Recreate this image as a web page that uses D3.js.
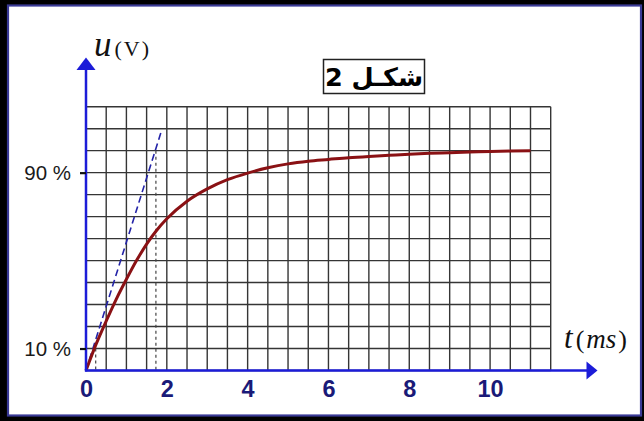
<!DOCTYPE html>
<html>
<head>
<meta charset="utf-8">
<script src="https://cdn.jsdelivr.net/npm/d3@7"></script>
<style>
  html, body { margin: 0; padding: 0; background: #000; }
  svg { display: block; }
</style>
</head>
<body>
<svg id="chart" width="644" height="421"></svg>
<script>
// Charging curve u(t), in percent of the final voltage, t in ms
const timeMs = [0, 0.25, 0.5, 0.75, 1.0, 1.25, 1.5, 1.75, 2.0, 2.5, 3.0, 3.5, 4.0, 4.5, 5.0,
                5.5, 6.0, 6.5, 7.0, 7.5, 8.0, 8.5, 9.0, 9.5, 10.0, 10.5, 11.0];
const voltagePct = [0, 12, 22.5, 32.5, 41.5, 50, 57.5, 63.8, 69, 77, 82.6, 86.8, 89.8, 92.2, 94,
                    95.2, 96, 96.8, 97.4, 97.9, 98.4, 98.8, 99.1, 99.4, 99.6, 99.8, 100];

// Tangent at the origin and the construction lines
const tangentT = [0, 1.86];
const tangentU = [0, 108.6];
const tauMs = 1.73;
const t10Ms = 0.24;

// Axis tick labels
const xTickValues = [0, 2, 4, 6, 8, 10];
const yTickValues = [10, 90];
const yTickLabels = ["10 %", "90 %"];

const svg = d3.select("#chart");

// Frame
svg.append("rect").attr("x", 0).attr("y", 0).attr("width", 644).attr("height", 421).attr("fill", "#000");
svg.append("rect").attr("x", 8).attr("y", 5.5).attr("width", 633).attr("height", 410)
  .attr("fill", "#fff").attr("stroke", "#3a3a96").attr("stroke-width", 2.2);

const x = d3.scaleLinear().domain([0, 11.5]).range([86, 550.7]);
const y = d3.scaleLinear().domain([0, 120]).range([370.5, 106.7]);

// Grid: 0.5 ms by 10 %
const grid = svg.append("g").attr("stroke", "#353535").attr("stroke-width", 1.4);
grid.selectAll("line.v").data(d3.range(0, 11.5001, 0.5)).join("line")
  .attr("class", "v")
  .attr("x1", d => x(d)).attr("x2", d => x(d))
  .attr("y1", y(0)).attr("y2", y(120));
grid.selectAll("line.h").data(d3.range(0, 120.001, 10)).join("line")
  .attr("class", "h")
  .attr("x1", x(0)).attr("x2", x(11.5))
  .attr("y1", d => y(d)).attr("y2", d => y(d));

// Construction lines
svg.append("line")
  .attr("x1", x(tauMs)).attr("x2", x(tauMs))
  .attr("y1", y(100)).attr("y2", y(0))
  .attr("stroke", "#444").attr("stroke-width", 1.2).attr("stroke-dasharray", "3,3");
svg.append("line")
  .attr("x1", x(t10Ms)).attr("x2", x(t10Ms))
  .attr("y1", y(10)).attr("y2", y(0))
  .attr("stroke", "#444").attr("stroke-width", 1.2).attr("stroke-dasharray", "3,3");

svg.append("path")
  .datum(d3.zip(tangentT, tangentU))
  .attr("d", d3.line().x(d => x(d[0])).y(d => y(d[1])))
  .attr("fill", "none").attr("stroke", "#2323a8").attr("stroke-width", 1.6)
  .attr("stroke-dasharray", "7,4");

// Curve
svg.append("path")
  .datum(d3.zip(timeMs, voltagePct))
  .attr("d", d3.line().x(d => x(d[0])).y(d => y(d[1])).curve(d3.curveMonotoneX))
  .attr("fill", "none").attr("stroke", "#8a1114").attr("stroke-width", 3);

// Axes lines and arrows
const axisBlue = "#1c1cd8";
svg.append("line").attr("x1", x(0)).attr("x2", x(0)).attr("y1", y(0) + 1).attr("y2", 68)
  .attr("stroke", axisBlue).attr("stroke-width", 2.5);
svg.append("path").attr("d", "M86,57.5 L76.5,70 L95.5,70 Z").attr("fill", axisBlue);
svg.append("line").attr("x1", x(0) - 1).attr("x2", 589).attr("y1", y(0)).attr("y2", y(0))
  .attr("stroke", axisBlue).attr("stroke-width", 2.5);
svg.append("path").attr("d", "M597.5,370.5 L586.5,361.5 L586.5,379.5 Z").attr("fill", axisBlue);

// Tick labels
const xAxis = svg.append("g").attr("transform", `translate(0,${y(0)})`)
  .call(d3.axisBottom(x).tickValues(xTickValues).tickSize(0).tickPadding(9.5));
xAxis.select(".domain").remove();
xAxis.selectAll("text")
  .attr("font-family", "Arial, 'Liberation Sans', sans-serif")
  .attr("font-weight", "bold").attr("font-size", 23.5).attr("fill", "#1a1a78");

const yAxis = svg.append("g").attr("transform", `translate(${x(0)},0)`)
  .call(d3.axisLeft(y).tickValues(yTickValues)
    .tickFormat((d, i) => yTickLabels[i]).tickSize(6).tickPadding(9));
yAxis.select(".domain").remove();
yAxis.selectAll("line").attr("stroke", "#111").attr("stroke-width", 2.2);
yAxis.selectAll("text")
  .attr("font-family", "Arial, 'Liberation Sans', sans-serif")
  .attr("font-size", 20.5).attr("fill", "#1a1a1a");

// Axis names
const serif = "'Liberation Serif', 'Times New Roman', serif";
const uLabel = svg.append("text").attr("x", 94).attr("y", 56).attr("font-family", serif).attr("fill", "#111");
uLabel.append("tspan").attr("font-style", "italic").attr("font-size", 35).text("u");
uLabel.append("tspan").attr("font-size", 22).attr("dx", 3).attr("letter-spacing", 2).text("(V)");

const tLabel = svg.append("text").attr("x", 564).attr("y", 348).attr("font-family", serif).attr("fill", "#111");
tLabel.append("tspan").attr("font-style", "italic").attr("font-size", 31).text("t");
tLabel.append("tspan").attr("font-size", 26).attr("dx", 3).text("(");
tLabel.append("tspan").attr("font-style", "italic").attr("font-size", 27).attr("dx", 2).text("ms");
tLabel.append("tspan").attr("font-size", 26).attr("dx", 2).text(")");

// Figure caption box
svg.append("rect").attr("x", 323.5).attr("y", 59.5).attr("width", 101).attr("height", 34)
  .attr("fill", "#fff").attr("stroke", "#222").attr("stroke-width", 1.5);
svg.append("text").attr("x", 374).attr("y", 86)
  .attr("text-anchor", "middle").attr("direction", "rtl")
  .attr("font-family", "'DejaVu Sans', Arial, sans-serif")
  .attr("font-weight", "bold").attr("font-size", 25.5).attr("fill", "#000")
  .text("شكـل 2");
</script>
</body>
</html>
